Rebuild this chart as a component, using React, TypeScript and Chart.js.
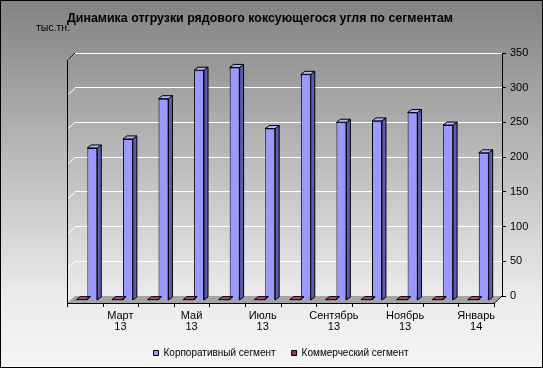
import React, { useEffect, useRef } from "react";
import { Chart, registerables } from "chart.js";

Chart.register(...registerables);

const TITLE = "Динамика отгрузки рядового коксующегося угля по сегментам";
const UNIT = "тыс.тн.";
const categories = [
  "Февраль 13", "Март 13", "Апрель 13", "Май 13", "Июнь 13", "Июль 13",
  "Август 13", "Сентябрь 13", "Октябрь 13", "Ноябрь 13", "Декабрь 13", "Январь 14",
];
const corporate = [219, 232, 290, 331, 335, 247, 325, 256, 258, 270, 252, 212];
const commercial = [0.5, 0.5, 0.5, 0.5, 0.5, 0.5, 0.5, 0.5, 0.5, 0.5, 0.5, 0.5];
const seriesNames = ["Корпоративный сегмент", "Коммерческий сегмент"];
const yTicks = { min: 0, max: 350, step: 50 };

const FONT = 'Arial, "Liberation Sans", sans-serif';
const DX = -8; // wall depth x
const DY = 7;  // wall depth y

const sideColors: Record<string, { side: string; top: string }> = {
  "#9999FF": { side: "#5c5cae", top: "#b4b4ff" },
  "#993366": { side: "#5e1f3f", top: "#b34d80" },
};

const framePlugin = {
  id: "frame3d",
  beforeDraw(chart: any) {
    const { ctx, width, height } = chart;
    ctx.save();
    const g = ctx.createLinearGradient(0, 0, 0, height);
    g.addColorStop(0, "#828282");
    g.addColorStop(0.8, "#ebebeb");
    g.addColorStop(1, "#f5f5f5");
    ctx.fillStyle = g;
    ctx.fillRect(0, 0, width, height);
    ctx.restore();
  },
  beforeDatasetsDraw(chart: any) {
    const { ctx, chartArea: ca } = chart;
    const ys = chart.scales.y;
    ctx.save();
    // side wall grid lines
    ctx.strokeStyle = "#ffffff";
    ctx.lineWidth = 1;
    ys.ticks.forEach((t: any) => {
      const yy = Math.round(ys.getPixelForValue(t.value)) + 0.5;
      if (t.value === 0) return;
      ctx.beginPath();
      ctx.moveTo(ca.left, yy);
      ctx.lineTo(ca.left + DX, yy + DY);
      ctx.stroke();
    });
    // floor
    const L = ca.left, R = ca.right, B = ca.bottom;
    ctx.fillStyle = "#a4a4a4";
    ctx.beginPath();
    ctx.moveTo(L, B);
    ctx.lineTo(R, B);
    ctx.lineTo(R + DX, B + DY);
    ctx.lineTo(L + DX, B + DY);
    ctx.closePath();
    ctx.fill();
    ctx.strokeStyle = "#000";
    ctx.lineWidth = 1;
    ctx.beginPath();
    ctx.moveTo(L + DX + 0.5, B + DY + 0.5);
    ctx.lineTo(R + DX, B + DY + 0.5);
    ctx.lineTo(R, B);
    ctx.stroke();
    // left wall edge
    ctx.beginPath();
    ctx.moveTo(L + DX + 0.5, B + DY + 0.5);
    ctx.lineTo(L + DX + 0.5, ca.top + DY);
    ctx.lineTo(L, ca.top);
    ctx.stroke();
    // category ticks along the front edge
    const n = categories.length;
    const step = (R - L) / n;
    for (let i = 0; i <= n; i++) {
      const xx = Math.round(L + DX + i * step) + 0.5;
      ctx.beginPath();
      ctx.moveTo(xx, B + DY);
      ctx.lineTo(xx, B + DY + 4);
      ctx.stroke();
    }
    ctx.restore();
    ctx.save();
    ctx.translate(-6, 4);
  },
  afterDatasetsDraw(chart: any) {
    const { ctx } = chart;
    chart.data.datasets.forEach((ds: any, di: number) => {
      const meta = chart.getDatasetMeta(di);
      if (meta.hidden) return;
      const cols = sideColors[ds.backgroundColor] || { side: "#555", top: "#aaa" };
      meta.data.forEach((el: any) => {
        const { x, y, base, width } = el.getProps(["x", "y", "base", "width"], true);
        const l = x - width / 2;
        const r = x + width / 2;
        const top = Math.min(y, base);
        const d = 4, h = 3;
        ctx.lineWidth = 1;
        ctx.strokeStyle = "#000";
        ctx.fillStyle = cols.side;
        ctx.beginPath();
        ctx.moveTo(r, top);
        ctx.lineTo(r + d, top - h);
        ctx.lineTo(r + d, base - h);
        ctx.lineTo(r, base);
        ctx.closePath();
        ctx.fill();
        ctx.stroke();
        ctx.fillStyle = cols.top;
        ctx.beginPath();
        ctx.moveTo(l, top);
        ctx.lineTo(l + d, top - h);
        ctx.lineTo(r + d, top - h);
        ctx.lineTo(r, top);
        ctx.closePath();
        ctx.fill();
        ctx.stroke();
      });
    });
    ctx.restore();
  },
  afterDraw(chart: any) {
    const { ctx, width, height } = chart;
    ctx.save();
    ctx.fillStyle = "#000";
    ctx.textBaseline = "middle";
    ctx.font = `10.5px ${FONT}`;
    ctx.textAlign = "left";
    ctx.fillText(UNIT, 36, 28);
    ctx.font = `bold 12.4px ${FONT}`;
    ctx.textAlign = "center";
    ctx.fillText(TITLE, 260, 19);
    ctx.strokeStyle = "#000";
    ctx.lineWidth = 1;
    ctx.strokeRect(0.5, 0.5, width - 1, height - 1);
    ctx.restore();
  },
};

export default function App() {
  const ref = useRef<HTMLCanvasElement | null>(null);
  useEffect(() => {
    document.body.style.margin = "0";
    if (!ref.current) return;
    const chart = new Chart(ref.current, {
      type: "bar",
      data: {
        labels: categories,
        datasets: [
          {
            label: seriesNames[1],
            data: commercial,
            backgroundColor: "#993366",
            borderColor: "#000",
            borderWidth: 1,
            clip: false,
          } as any,
          {
            label: seriesNames[0],
            data: corporate,
            backgroundColor: "#9999FF",
            borderColor: "#000",
            borderWidth: 1,
            clip: false,
          } as any,
        ],
      },
      options: {
        animation: false,
        responsive: false,
        devicePixelRatio: 1,
        layout: { padding: { left: 19, right: 0, top: 53, bottom: 0 } },
        datasets: { bar: { categoryPercentage: 0.62, barPercentage: 0.9 } },
        plugins: {
          title: { display: false },
          tooltip: { enabled: false },
          legend: {
            position: "bottom",
            reverse: true,
            labels: {
              boxWidth: 5,
              boxHeight: 5,
              padding: 16,
              color: "#000",
              font: { family: FONT, size: 10 },
            },
          },
        },
        scales: {
          x: {
            type: "category",
            grid: { display: false, drawTicks: false },
            border: { display: false },
            ticks: {
              autoSkip: false,
              maxRotation: 0,
              minRotation: 0,
              padding: 14,
              labelOffset: -8,
              color: "#000",
              font: { family: FONT, size: 11, lineHeight: 1.05 },
              callback: (_v: any, i: number) =>
                i % 2 === 1 ? categories[i].split(" ") : "",
            },
            afterFit: (s: any) => {
              s.height = 36;
            },
          },
          yL: {
            type: "linear",
            position: "left",
            display: true,
            grid: { display: false, drawTicks: false },
            border: { display: false },
            ticks: { display: false },
            afterFit: (s: any) => {
              s.width = 56;
            },
          },
          y: {
            type: "linear",
            position: "right",
            min: yTicks.min,
            max: yTicks.max,
            grid: {
              color: "#ffffff",
              lineWidth: 1,
              tickLength: 4,
              tickColor: "#000",
            },
            border: { display: true, color: "#000", width: 1 },
            ticks: {
              stepSize: yTicks.step,
              padding: 4,
              color: "#000",
              font: { family: FONT, size: 11 },
            },
            afterFit: (s: any) => {
              s.width = 41;
            },
          },
        },
      },
      plugins: [framePlugin],
    });
    return () => chart.destroy();
  }, []);
  return (
    <div style={{ width: 543, height: 368 }}>
      <canvas ref={ref} width={543} height={368} />
    </div>
  );
}
